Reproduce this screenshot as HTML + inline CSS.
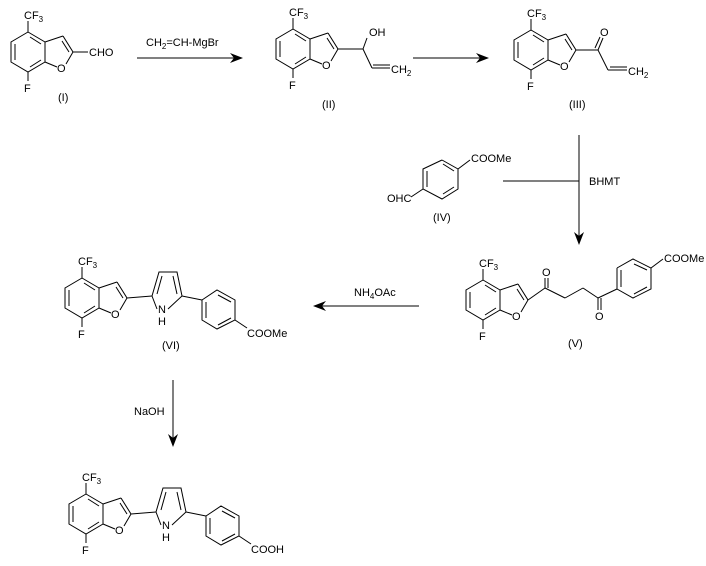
<!DOCTYPE html>
<html><head><meta charset="utf-8"><style>
html,body{margin:0;padding:0;background:#fff}
svg{display:block}
text{font-family:"Liberation Sans",Arial,sans-serif;font-size:11px;fill:#000}
.s{font-size:8px}
</style></head><body>
<svg width="706" height="566" viewBox="0 0 706 566" xmlns="http://www.w3.org/2000/svg">
<defs>
<g id="bf" stroke="#000" stroke-width="1" fill="none">
<polyline points="0,0 17,10 17,30 0,40 -17,30 -17,10 0,0"/>
<line x1="-13" y1="12" x2="-13" y2="28"/>
<line x1="2" y1="5" x2="13" y2="12"/>
<line x1="13" y1="28" x2="2" y2="35"/>
<line x1="17" y1="10" x2="35" y2="4"/>
<line x1="35" y1="4" x2="45" y2="20"/>
<line x1="34" y1="9" x2="41" y2="20"/>
<line x1="45" y1="20" x2="38" y2="32"/>
<line x1="17" y1="30" x2="29" y2="35"/>
<line x1="0" y1="0" x2="0" y2="-11"/>
<line x1="0" y1="40" x2="0" y2="49"/>
</g>
<g id="bft">
<text x="-4" y="-13">CF<tspan class="s" dy="3">3</tspan></text>
<text x="-4" y="60">F</text>
<text x="29" y="40">O</text>
</g>
</defs>
<g stroke="#000" stroke-width="1" fill="none">
<!-- arrows -->
<line x1="137" y1="58" x2="240" y2="58"/>
<line x1="413" y1="58" x2="486" y2="58"/>
<line x1="503" y1="181" x2="579" y2="181"/>
<line x1="579" y1="135" x2="579" y2="242"/>
<line x1="419" y1="306" x2="316" y2="306"/>
<line x1="173" y1="380" x2="173" y2="444"/>
<!-- I CHO -->
<line x1="73" y1="52" x2="88" y2="52"/>
<!-- II -->
<line x1="338" y1="49" x2="363" y2="49"/>
<line x1="363" y1="49" x2="367" y2="38"/>
<line x1="363" y1="49" x2="372" y2="68"/>
<line x1="372" y1="68" x2="390" y2="68"/>
<line x1="373" y1="65" x2="390" y2="65"/>
<!-- III -->
<line x1="576" y1="50" x2="598" y2="50"/>
<line x1="598" y1="50" x2="603" y2="38"/>
<line x1="595" y1="48" x2="600" y2="37"/>
<line x1="598" y1="50" x2="608" y2="70"/>
<line x1="608" y1="70" x2="627" y2="70"/>
<line x1="610" y1="67" x2="627" y2="67"/>
<!-- IV -->
<polyline points="442,160 458,169 458,189 442,199 423,189 423,169 442,160"/>
<line x1="427" y1="171" x2="427" y2="187"/>
<line x1="443" y1="164" x2="454" y2="171"/>
<line x1="454" y1="187" x2="443" y2="194"/>
<line x1="458" y1="169" x2="470" y2="160"/>
<line x1="423" y1="189" x2="411" y2="197"/>
<!-- V -->
<line x1="528" y1="300" x2="545" y2="288"/>
<line x1="545" y1="288" x2="545" y2="278"/>
<line x1="548" y1="288" x2="548" y2="278"/>
<line x1="545" y1="288" x2="565" y2="298"/>
<line x1="565" y1="298" x2="583" y2="288"/>
<line x1="583" y1="288" x2="598" y2="298"/>
<line x1="598" y1="298" x2="598" y2="310"/>
<line x1="601" y1="298" x2="601" y2="310"/>
<line x1="598" y1="298" x2="617" y2="289"/>
<polyline points="617,268 633,259 651,268 651,289 633,298 617,289 617,268"/>
<line x1="621" y1="270" x2="621" y2="287"/>
<line x1="634" y1="264" x2="647" y2="270"/>
<line x1="647" y1="287" x2="634" y2="294"/>
<line x1="651" y1="268" x2="663" y2="259"/>
</g>
<!-- pyrrole-phenyl groups -->
<g id="vi" stroke="#000" stroke-width="1" fill="none">
<line x1="127" y1="298" x2="152" y2="296"/>
<polyline points="157,309 152,296 159,272 177,272 182,296 168,309"/>
<line x1="157" y1="294" x2="162" y2="276"/>
<line x1="177" y1="294" x2="173" y2="276"/>
<line x1="182" y1="296" x2="202" y2="300"/>
<polyline points="202,300 217,290 235,300 235,320 217,329 202,320 202,300"/>
<line x1="206" y1="302" x2="206" y2="318"/>
<line x1="218" y1="295" x2="231" y2="302"/>
<line x1="231" y1="318" x2="218" y2="325"/>
<line x1="235" y1="320" x2="247" y2="328"/>
</g>
<g transform="translate(4,216)" stroke="#000" stroke-width="1" fill="none">
<line x1="127" y1="298" x2="152" y2="296"/>
<polyline points="157,309 152,296 159,272 177,272 182,296 168,309"/>
<line x1="157" y1="294" x2="162" y2="276"/>
<line x1="177" y1="294" x2="173" y2="276"/>
<line x1="182" y1="296" x2="202" y2="300"/>
<polyline points="202,300 217,290 235,300 235,320 217,329 202,320 202,300"/>
<line x1="206" y1="302" x2="206" y2="318"/>
<line x1="218" y1="295" x2="231" y2="302"/>
<line x1="231" y1="318" x2="218" y2="325"/>
<line x1="235" y1="320" x2="247" y2="328"/>
</g>
<!-- arrowheads -->
<g fill="#000">
<polygon points="243,58 230,53 234,58 230,63"/>
<polygon points="489,58 476,53 480,58 476,63"/>
<polygon points="579,245 574,232 579,236 584,232"/>
<polygon points="313,306 326,301 322,306 326,311"/>
<polygon points="173,447 168,434 173,438 178,434"/>
</g>
<!-- benzofurans -->
<use href="#bf" x="28" y="32"/><use href="#bft" x="28" y="32"/>
<use href="#bf" x="293" y="29"/><use href="#bft" x="293" y="29"/>
<use href="#bf" x="531" y="30"/><use href="#bft" x="531" y="30"/>
<use href="#bf" x="483" y="280"/><use href="#bft" x="483" y="280"/>
<use href="#bf" x="82" y="278"/><use href="#bft" x="82" y="278"/>
<use href="#bf" x="86" y="494"/><use href="#bft" x="86" y="494"/>
<!-- labels -->
<text x="89" y="56">CHO</text>
<text x="58" y="101">(I)</text>
<text x="146" y="46">CH<tspan class="s" dy="3">2</tspan><tspan dy="-3">=CH-MgBr</tspan></text>
<text x="369" y="36">OH</text>
<text x="391" y="73">CH<tspan class="s" dy="3">2</tspan></text>
<text x="322" y="108">(II)</text>
<text x="600" y="36">O</text>
<text x="628" y="75">CH<tspan class="s" dy="3">2</tspan></text>
<text x="569" y="108">(III)</text>
<text x="471" y="162">COOMe</text>
<text x="387" y="202">OHC</text>
<text x="433" y="221">(IV)</text>
<text x="589" y="185">BHMT</text>
<text x="542" y="276">O</text>
<text x="595" y="320">O</text>
<text x="664" y="262">COOMe</text>
<text x="568" y="347">(V)</text>
<text x="354" y="296">NH<tspan class="s" dy="3">4</tspan><tspan dy="-3">OAc</tspan></text>
<text x="158" y="313">N</text>
<text x="158" y="325">H</text>
<text x="247" y="337">COOMe</text>
<text x="162" y="349">(VI)</text>
<text x="134" y="415">NaOH</text>
<text x="162" y="529">N</text>
<text x="162" y="541">H</text>
<text x="251" y="553">COOH</text>
</svg>
</body></html>
